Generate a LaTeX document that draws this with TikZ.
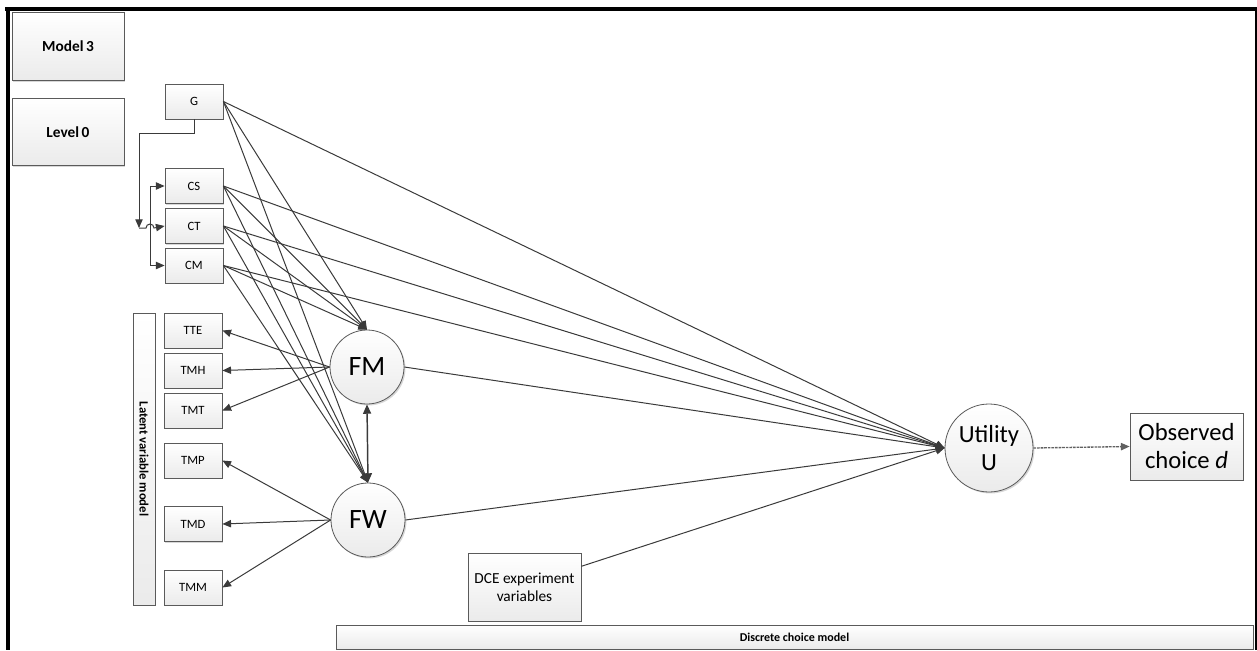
\documentclass[tikz,border=0pt]{standalone}
\usepackage{fontspec}
\setmainfont{Carlito}
\usetikzlibrary{arrows.meta,shadows,calc}
\definecolor{ln}{HTML}{3A3A3A}
\definecolor{bd}{HTML}{5A5A5A}
\begin{document}
\begin{tikzpicture}[x=0.75pt,y=-0.75pt,
  shd/.style={drop shadow={shadow xshift=1.1pt,shadow yshift=-1.1pt,fill=gray!70,opacity=0.45}},
  boxs/.style={draw=bd,line width=0.6pt,top color=white,bottom color=gray!16,shd,inner sep=0pt,align=center},
  small/.style={boxs,minimum width=43.5pt,minimum height=26.25pt,font=\fontsize{9.5}{11}\selectfont},
  big/.style={boxs,minimum width=84pt,minimum height=50.5pt,font=\fontsize{11.5}{13}\selectfont\bfseries},
  circ/.style={boxs,circle,minimum size=55.5pt,font=\fontsize{21}{24}\selectfont},
  conn/.style={draw=ln,line width=0.75pt,-{Triangle[length=6.5pt,width=5.5pt]}},
  plain/.style={draw=ln,line width=0.75pt}]
\useasboundingbox (0,0) rectangle (1257,650);
% frame
\draw[line width=3pt] (5,9) -- (1257,9);
\draw[line width=3pt] (8,7.5) -- (8,650);
\draw[line width=1.5pt] (1256,9) -- (1256,650);
% nodes
\node[big] (m3) at (68,46.5) {Model\,3};
\node[big] (l0) at (68,132) {Level\,0};
\node[small] (G) at (194,101.5) {G};
\node[small] (CS) at (194,186) {CS};
\node[small] (CT) at (194,226) {CT};
\node[small] (CM) at (194,265.5) {CM};
\node[boxs,rotate=-90,minimum width=219pt,minimum height=16.5pt,font=\fontsize{9.5}{11}\selectfont\bfseries] (lvm) at (144,459) {Latent variable model};
\node[small] (TTE) at (193,330.5) {TTE};
\node[small] (TMH) at (193,370.5) {TMH};
\node[small] (TMT) at (193,410.5) {TMT};
\node[small] (TMP) at (193,460.5) {TMP};
\node[small] (TMD) at (193,524) {TMD};
\node[small] (TMM) at (193,587.5) {TMM};
\node[circ] (FM) at (367,367) {FM};
\node[circ] (FW) at (368,520) {FW};
\node[circ,minimum size=66pt,font=\fontsize{18.5}{21}\selectfont] (U) at (989,448) {Utility\\U};
\node[boxs,minimum width=84.75pt,minimum height=50.25pt,font=\fontsize{18.5}{21}\selectfont] (obs) at (1186.5,446.5) {Observed\\choice \textit{d}};
\node[boxs,minimum width=84.75pt,minimum height=51pt,font=\fontsize{11.5}{13.5}\selectfont] (dce) at (524.5,587) {DCE experiment\\variables};
\node[boxs,minimum width=687.75pt,minimum height=18pt,font=\fontsize{9}{10}\selectfont\bfseries] (dcm) at (794.5,637) {Discrete choice model};
% G connector
\coordinate (j) at (139,228);
\draw[conn] (G.south) -- ++(0,14) -| (j);
\draw[conn] (j) -- ++(7,0) arc[start angle=180,end angle=0,radius=3pt] -- (CT.west);
\draw[conn] (j) ++(11,0) |- (CS.west);
\draw[conn] (j) ++(11,0) |- (CM.west);
% structural lines
\foreach \s in {G,CS,CT,CM}{
  \draw[conn] (\s.east) -- (U.west);
  \draw[conn] (\s.east) -- (FM.north);
  \draw[conn] (\s.east) -- (FW.north);
}
\draw[conn] (FM.east) -- (U.west);
\draw[conn] (FW.east) -- (U.west);
\draw[conn] (dce.20) -- (U.west);
% measurement
\foreach \t in {TTE,TMH,TMT}{\draw[conn] (FM.west) -- (\t.east);}
\foreach \t in {TMP,TMD,TMM}{\draw[conn] (FW.west) -- (\t.east);}
\draw[draw=ln,line width=1.1pt,{Triangle[length=7pt,width=6pt]}-{Triangle[length=7pt,width=6pt]}] (FM.south) -- (FW.north);
% outcome
\draw[conn,draw=gray!75!black,line width=1pt,dash pattern=on 2pt off 0.7pt] (U.east) -- (obs.west);
\end{tikzpicture}
\end{document}
